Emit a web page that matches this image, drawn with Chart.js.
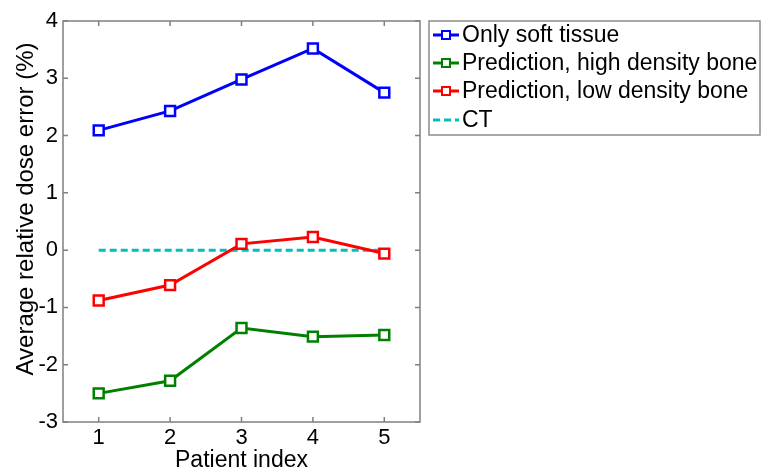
<!DOCTYPE html>
<html>
<head>
<meta charset="utf-8">
<script src="https://cdn.jsdelivr.net/npm/chart.js@4"></script>
<style>
  html, body { margin: 0; padding: 0; background: #fff; }
  #wrap { width: 763px; height: 474px; }
</style>
</head>
<body>
<div id="wrap"><canvas id="doseChart"></canvas></div>
<script>
const patients = [1, 2, 3, 4, 5];
const softTissue = [2.09, 2.43, 2.98, 3.52, 2.75];
const highDensity = [-2.50, -2.28, -1.36, -1.51, -1.48];
const lowDensity = [-0.88, -0.61, 0.11, 0.23, -0.06];
const ctLine = [0, 0, 0, 0, 0];
const yTicks = [-3, -2, -1, 0, 1, 2, 3, 4];
const yTitle = 'Average relative dose error (%)';

const FONT = 'Arial, "Liberation Sans", sans-serif';

function pts(vals) {
    return patients.map((p, i) => ({ x: p, y: vals[i] }));
}

function series(label, vals, color) {
    return {
        label: label,
        data: pts(vals),
        borderColor: color,
        backgroundColor: '#fff',
        borderWidth: 3,
        pointStyle: 'rect',
        pointRadius: 7,
        pointBorderWidth: 2.5,
        pointBackgroundColor: '#fff',
        fill: false,
        tension: 0
    };
}

// MATLAB-style box with inward ticks, y title and an outside legend
const boxPlugin = {
    id: 'boxPlugin',
    afterDraw(chart) {
        const ctx = chart.ctx;
        const a = chart.chartArea;
        const xs = chart.scales.x, ys = chart.scales.y;
        ctx.save();
        ctx.strokeStyle = '#808080';
        ctx.lineWidth = 1.5;
        ctx.strokeRect(a.left, a.top, a.right - a.left, a.bottom - a.top);
        ctx.beginPath();
        patients.forEach(p => {
            const x = xs.getPixelForValue(p);
            ctx.moveTo(x, a.bottom); ctx.lineTo(x, a.bottom - 5);
            ctx.moveTo(x, a.top); ctx.lineTo(x, a.top + 5);
        });
        yTicks.forEach(v => {
            const y = ys.getPixelForValue(v);
            ctx.moveTo(a.left, y); ctx.lineTo(a.left + 5, y);
            ctx.moveTo(a.right, y); ctx.lineTo(a.right - 5, y);
        });
        ctx.stroke();

        // y title
        ctx.save();
        ctx.translate(26, 209);
        ctx.rotate(-Math.PI / 2);
        ctx.font = '24px ' + FONT;
        ctx.fillStyle = '#000';
        ctx.textAlign = 'center';
        ctx.textBaseline = 'middle';
        ctx.fillText(yTitle, 0, 0);
        ctx.restore();

        // legend
        const lx = 429, ly = 21, lw = 331, lh = 114;
        ctx.lineWidth = 1.5;
        ctx.strokeStyle = '#8c8c8c';
        ctx.strokeRect(lx, ly, lw, lh);
        ctx.font = '23px ' + FONT;
        ctx.textBaseline = 'middle';
        ctx.fillStyle = '#000';
        const rows = [35, 63, 91, 120];
        chart.data.datasets.forEach((ds, i) => {
            const y = rows[i];
            ctx.strokeStyle = ds.borderColor;
            ctx.lineWidth = 3;
            ctx.setLineDash(ds.borderDash || []);
            ctx.beginPath();
            ctx.moveTo(lx + 4, y); ctx.lineTo(lx + 30, y);
            ctx.stroke();
            ctx.setLineDash([]);
            if (ds.pointRadius > 0) {
                ctx.lineWidth = 2;
                ctx.fillStyle = '#fff';
                ctx.fillRect(lx + 13, y - 4, 8, 8);
                ctx.strokeRect(lx + 13, y - 4, 8, 8);
            }
            ctx.fillStyle = '#000';
            ctx.fillText(ds.label, lx + 33, y + 1);
        });
        ctx.restore();
    }
};

const ctDs = {
    label: 'CT',
    data: pts(ctLine),
    borderColor: '#00bfbf',
    borderWidth: 3,
    borderDash: [7, 4],
    pointRadius: 0,
    fill: false
};

new Chart(document.getElementById('doseChart'), {
    type: 'line',
    data: {
        datasets: [
            series('Only soft tissue', softTissue, '#0000ff'),
            series('Prediction, high density bone', highDensity, '#008000'),
            series('Prediction, low density bone', lowDensity, '#ff0000'),
            ctDs
        ]
    },
    options: {
        responsive: true,
        maintainAspectRatio: false,
        animation: false,
        layout: { padding: { left: 0, top: 21, right: 343, bottom: 0 } },
        plugins: { legend: { display: false }, tooltip: { enabled: false } },
        scales: {
            x: {
                type: 'linear',
                min: 0.5,
                max: 5.5,
                afterFit(s) { s.height = 52; },
                afterBuildTicks(s) { s.ticks = patients.map(v => ({ value: v })); },
                grid: { display: false, drawTicks: false },
                border: { display: false },
                ticks: { color: '#000', font: { size: 22, family: FONT }, padding: 3 },
                title: { display: true, text: 'Patient index', color: '#000', font: { size: 23, family: FONT }, padding: { top: 0, bottom: 0 } }
            },
            y: {
                min: -3,
                max: 4,
                afterFit(s) { s.width = 63; },
                afterBuildTicks(s) { s.ticks = yTicks.map(v => ({ value: v })); },
                grid: { display: false, drawTicks: false },
                border: { display: false },
                ticks: { color: '#000', font: { size: 22, family: FONT }, padding: 5 }
            }
        }
    },
    plugins: [boxPlugin]
});
</script>
</body>
</html>
